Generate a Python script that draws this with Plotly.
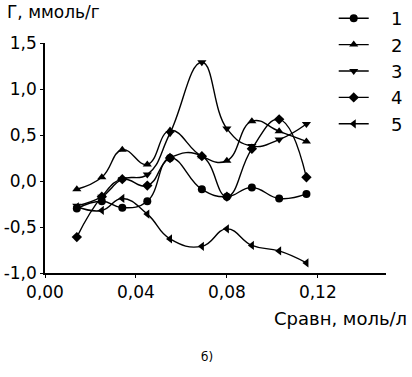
import plotly.graph_objects as go

x = [0.014, 0.025, 0.034, 0.045, 0.055, 0.069, 0.080, 0.091, 0.103, 0.115]
s1 = [-0.30, -0.22, -0.29, -0.22, 0.25, -0.09, -0.17, -0.07, -0.19, -0.14]
s2 = [-0.09, 0.04, 0.34, 0.18, 0.55, 0.27, 0.22, 0.65, 0.54, 0.43]
s3 = [-0.27, -0.17, 0.02, 0.07, 0.52, 1.29, 0.57, 0.38, 0.45, 0.62]
s4 = [-0.61, -0.17, 0.02, -0.05, 0.25, 0.27, -0.17, 0.35, 0.67, 0.04]
s5 = [-0.28, -0.32, -0.19, -0.36, -0.63, -0.71, -0.52, -0.70, -0.76, -0.89]

names = ["1", "2", "3", "4", "5"]
symbols = ["circle", "triangle-up", "triangle-down", "diamond", "triangle-left"]
series = [s1, s2, s3, s4, s5]

xtickvals = [0.0, 0.04, 0.08, 0.12]
xticktext = ["0,00", "0,04", "0,08", "0,12"]
ytickvals = [-1.0, -0.5, 0.0, 0.5, 1.0, 1.5]
yticktext = ["-1,0", "-0,5", "0,0", "0,5", "1,0", "1,5"]

FONT = "DejaVu Sans, Arial, sans-serif"
W, H = 412, 377

fig = go.Figure()
for nm, sym, ys in zip(names, symbols, series):
    fig.add_trace(go.Scatter(
        x=x, y=ys, name="\u00a0\u00a0\u00a0" + nm, mode="lines+markers",
        line=dict(color="black", width=1.4, shape="spline", smoothing=1.3),
        marker=dict(symbol=sym, size=8, color="black"),
    ))

fig.update_layout(
    width=W, height=H,
    margin=dict(l=0, r=0, t=0, b=0),
    paper_bgcolor="white", plot_bgcolor="white",
    font=dict(family=FONT, size=17, color="black"),
    showlegend=True,
    legend=dict(x=0.81, y=1.0, xanchor="left", yanchor="top",
                font=dict(size=18), bgcolor="rgba(0,0,0,0)",
                itemwidth=30, tracegroupgap=0),
    xaxis=dict(domain=[45 / W, 386 / W], range=[0, 0.15],
               tickvals=xtickvals, ticktext=xticktext,
               showline=True, linecolor="black", linewidth=1.5,
               ticks="outside", ticklen=3, tickcolor="black",
               showgrid=False, zeroline=False, automargin=False,
               tickfont=dict(size=17)),
    yaxis=dict(domain=[104 / H, 1 - 43 / H], range=[-1.0, 1.5],
               tickvals=ytickvals, ticktext=yticktext,
               showline=True, linecolor="black", linewidth=1.5,
               ticks="outside", ticklen=3, tickcolor="black",
               showgrid=False, zeroline=False, automargin=False,
               tickfont=dict(size=17)),
    annotations=[
        dict(text="Г, ммоль/г", xref="paper", yref="paper", x=5 / W, y=1 - 12 / H,
             xanchor="left", yanchor="middle", showarrow=False,
             font=dict(size=17)),
        dict(text="Сравн, моль/л", xref="paper", yref="paper", x=272 / W, y=1 - 318 / H,
             xanchor="left", yanchor="middle", showarrow=False,
             font=dict(size=18)),
        dict(text="б)", xref="paper", yref="paper", x=207 / W, y=1 - 357 / H,
             xanchor="center", yanchor="middle", showarrow=False,
             font=dict(size=12)),
    ],
)

fig.write_html("out.html", config={"displayModeBar": False},
               post_script="document.body.style.margin='0px';")
